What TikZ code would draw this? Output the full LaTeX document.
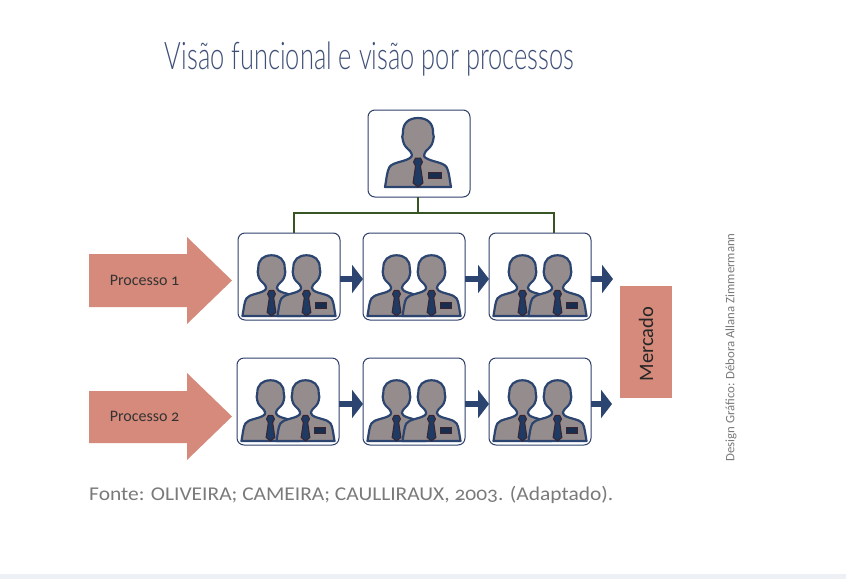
\documentclass[tikz,border=0pt]{standalone}
\usepackage{fontspec}
\usetikzlibrary{arrows.meta,calc}
\setmainfont[Numbers=OldStyle]{Carlito}
\newfontfamily\titlefont[FakeStretch=0.67]{Lato Light}
\newfontfamily\srcfont[Numbers=OldStyle,FakeStretch=1.1]{Carlito}
\definecolor{salmon}{HTML}{D58A7B}
\definecolor{navy}{HTML}{2B4570}
\definecolor{boxline}{HTML}{2F3F6B}
\definecolor{skin}{HTML}{958D8D}
\definecolor{tiecol}{HTML}{1F3A63}
\definecolor{tieedge}{HTML}{3A2430}
\definecolor{treecol}{HTML}{375623}
\definecolor{titlecol}{HTML}{3F5078}
\definecolor{greytext}{HTML}{7A7A7A}
\definecolor{stripcol}{HTML}{EDF0F4}
\tikzset{
  x=1pt,y=-1pt,
  box/.style={draw=boxline,line width=1pt,rounded corners=7pt,fill=white,minimum width=102pt,minimum height=87pt,inner sep=0pt,outer sep=0pt},
  flow/.style={draw=navy,line width=6pt,-{Triangle[length=11pt,width=28pt]}},
  tree/.style={draw=treecol,line width=2.3pt},
  bigarrow/.style={fill=salmon,draw=none},
  label/.style={font=\fontsize{16}{16}\selectfont,text=black!80,inner sep=0pt},
  pics/person/.style={code={
    \draw[fill=skin,draw=navy,line width=2.2pt,line join=round]
      (-33,0) .. controls (-31.5,-8) and (-31,-16) .. (-28.5,-20)
      .. controls (-25,-25) and (-14,-25) .. (-8,-29)
      .. controls (-5,-31) and (-6,-33) .. (-8,-36)
      .. controls (-11,-39) and (-14,-41) .. (-15,-46)
      .. controls (-16,-49) and (-16,-52) .. (-15,-54)
      .. controls (-15.5,-64) and (-9,-69) .. (0,-69)
      .. controls (9,-69) and (15.5,-64) .. (15,-54)
      .. controls (16,-52) and (16,-49) .. (15,-46)
      .. controls (14,-41) and (11,-39) .. (8,-36)
      .. controls (6,-33) and (5,-30) .. (8,-29)
      .. controls (14,-25) and (25,-25) .. (28.5,-20)
      .. controls (31,-16) and (31.5,-8) .. (33,0) -- cycle;
    \draw[fill=tiecol,draw=tieedge,line width=1pt,line join=round]
      (-2.5,-21) -- (-4.5,-25) -- (-2.5,-29) -- (2.5,-29) -- (4.5,-25) -- (2.5,-21)
      -- (5,-4) -- (0,0) -- (-5,-4) -- cycle;
  }},
  pics/badge/.style={code={
    \draw[fill=tiecol!80!black,draw=tieedge,line width=.7pt] (10,-15) rectangle (23,-9);
  }},
}
\newcommand{\duo}[1]{%
  \path (#1.south) ++(-17.5,-4) pic[scale=.88] {person};
  \path (#1.south) ++(17.5,-4) pic[scale=.88] {person};
  \path (#1.south) ++(17.5,-4) pic[scale=.88] {badge};
}
\begin{document}
\begin{tikzpicture}
\useasboundingbox (0,0) rectangle (846,579);
\fill[white] (0,0) rectangle (846,579);
\fill[stripcol] (0,574) rectangle (846,579);
\node[font=\fontsize{38}{38}\selectfont\titlefont,text=titlecol,inner sep=0pt] (title) at (369.5,59) {Visão funcional e visão por processos};

\node[box] (top) at (419,153.5) {};
\path (top.south) ++(-1,-10) pic {person};
\path (top.south) ++(-1,-10) pic {badge};

\node[box] (a1) at (289,276.5) {};
\node[box] (a2) at (414,276.5) {};
\node[box] (a3) at (540,276.5) {};
\node[box] (b1) at (288,401.5) {};
\node[box] (b2) at (414,401.5) {};
\node[box] (b3) at (540,401.5) {};
\duo{a1}\duo{a2}\duo{a3}\duo{b1}\duo{b2}\duo{b3}

\coordinate (topdrop) at (418,197);
\coordinate (busL) at (294,213);
\coordinate (busR) at (554,213);
\coordinate (busM) at (418,213);
\draw[tree] (top.south -| topdrop) -- (busM);
\draw[tree] (a1.north -| busL) -- (busL) -- (busR) -- (a3.north -| busR);

\node[fill=salmon,minimum width=52pt,minimum height=112pt,inner sep=0pt] (mkt) at (646,342) {};
\node[rotate=90,font=\fontsize{20.5}{20.5}\selectfont,text=black!85,inner sep=0pt] (mktlabel) at (646,344) {Mercado};

\coordinate (endA) at (613,279);
\coordinate (endB) at (612,404);
\draw[flow] ($(a1.east)+(0,2.5)$) -- ($(a2.west)+(0,2.5)$);
\draw[flow] ($(a2.east)+(0,2.5)$) -- ($(a3.west)+(0,2.5)$);
\draw[flow] ($(a3.east)+(0,2.5)$) -- (endA);
\draw[flow] ($(b1.east)+(0,2.5)$) -- ($(b2.west)+(0,2.5)$);
\draw[flow] ($(b2.east)+(0,2.5)$) -- ($(b3.west)+(0,2.5)$);
\draw[flow] ($(b3.east)+(0,2.5)$) -- (endB);

\fill[bigarrow] (89,254) -- (187,254) -- (187,237) -- (232,280.5) -- (187,324) -- (187,307) -- (89,307) -- cycle;
\fill[bigarrow] (89,391) -- (187,391) -- (187,373) -- (232,416.5) -- (187,460) -- (187,443) -- (89,443) -- cycle;
\node[label] (p1) at (144.5,280) {Processo 1};
\node[label] (p2) at (144.5,416) {Processo 2};

\node[font=\fontsize{19.5}{19.5}\selectfont\srcfont,text=greytext,inner sep=0pt,anchor=west] (src) at (89,495) {Fonte: OLIVEIRA; CAMEIRA; CAULLIRAUX, 2003. (Adaptado).};
\node[rotate=90,font=\fontsize{12.8}{12.8}\selectfont,text=greytext,inner sep=0pt] (credit) at (731,347.5) {Design Gráfico: Débora Allana Zimmermann};
\end{tikzpicture}
\end{document}
